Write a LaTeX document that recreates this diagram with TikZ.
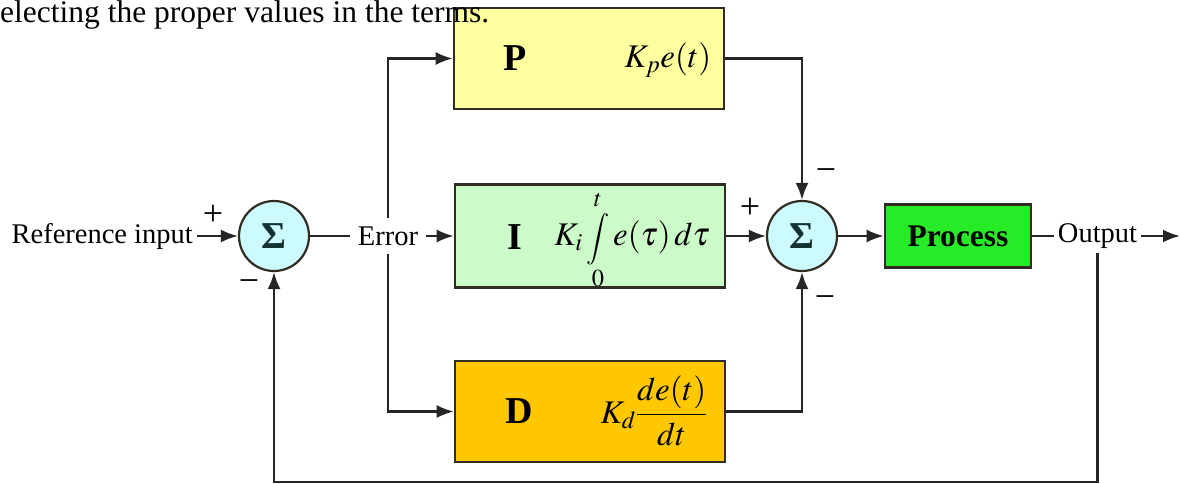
\documentclass[tikz,border=0pt]{standalone}
\usepackage{mathptmx}
\usepackage{fontspec}
\setmainfont{Liberation Serif}
\usetikzlibrary{arrows.meta, positioning}
\definecolor{pfill}{RGB}{255,255,160}
\definecolor{ifill}{RGB}{204,250,200}
\definecolor{dfill}{RGB}{255,200,0}
\definecolor{procfill}{RGB}{40,235,40}
\definecolor{sumfill}{RGB}{204,250,255}
\definecolor{boxline}{RGB}{50,45,35}
\definecolor{wirecol}{RGB}{38,38,38}
\definecolor{sigcol}{RGB}{20,50,50}

\begin{document}
\begin{tikzpicture}[x=1pt, y=-1pt,
    blk/.style={draw=boxline, line width=2.6pt, minimum width=270pt, minimum height=101pt, inner sep=0pt},
    summer/.style={circle, draw=boxline, line width=2.2pt, fill=sumfill, minimum size=70pt, inner sep=0pt, text=sigcol, font=\fontsize{38}{38}\selectfont\bfseries},
    lbl/.style={font=\fontsize{28.5}{30}\selectfont, inner sep=4pt},
    letter/.style={font=\fontsize{38}{38}\selectfont\bfseries, inner sep=0pt},
    mth/.style={font=\fontsize{33}{36}\selectfont, inner sep=0pt},
    sgn/.style={font=\fontsize{36}{36}\selectfont, inner sep=0pt},
    wire/.style={line width=2.2pt, draw=wirecol},
    arr/.style={wire, -{Latex[length=17pt, width=13pt]}}]
    \useasboundingbox (0,0) rectangle (1180,484);

    % P, I, D blocks
    \node[blk, fill=pfill] (P) at (589,58.5) {};
    \node[blk, fill=ifill, minimum height=103pt] (I) at (590,236) {};
    \node[blk, fill=dfill] (D) at (590,411.5) {};
    \node[letter] (Plet) at (515,58) {P};
    \node[letter] (Ilet) at (515,237) {I};
    \node[letter] (Dlet) at (519,411) {D};
    \node[mth] (Pterm) at (668,60) {$K_p e(t)$};
    \node[mth] (Iterm) at (632,240) {$\displaystyle K_i \mathop{\scalebox{0.78}{$\displaystyle\int$}}\limits_0^t e(\tau)\,d\tau$};
    \node[mth] (Dterm) at (654,411) {$\displaystyle K_d \frac{de(t)}{dt}$};

    % process block
    \node[blk, fill=procfill, minimum width=146pt, minimum height=63pt, font=\fontsize{31.5}{32}\selectfont\bfseries] (proc) at (958,236) {Process};

    % summing junctions
    \node[summer] (sum1) at (274,236) {Σ};
    \node[summer] (sum2) at (802,236) {Σ};

    % signal labels
    \node[lbl, anchor=east] (ref) at (197,236) {Reference input};
    \node[lbl, inner sep=8pt] (err) at (388,236) {Error};
    \node[lbl] (out) at (1097.5,236) {Output};
    \coordinate (outend) at (1180,236);
    \coordinate (fb) at (1097.5,482);

    % signs
    \node[sgn] (s1p) at (213,215) {+};
    \node[sgn] (s1m) at (249,286) {−};
    \node[sgn] (s2p) at (750,208) {+};
    \node[sgn] (s2mt) at (826,175) {−};
    \node[sgn] (s2mb) at (825,302) {−};

    % forward path
    \draw[arr] (ref.east) -- (sum1.west);
    \draw[wire] (sum1) -- (err);
    \draw[arr] (err) -- (I);
    \draw[arr] (err.north) |- (P.west);
    \draw[arr] (err.south) |- (D.west);
    \draw[arr] (P.east) -| (sum2.north);
    \draw[arr] (I.east) -- (sum2.west);
    \draw[arr] (D.east) -| (sum2.south);
    \draw[arr] (sum2) -- (proc);
    \draw[wire] (proc) -- (out);
    \draw[arr] (out) -- (outend);

    % feedback
    \draw[arr] (out.south) -- (fb) -| (sum1.south);

    % text above
    \node[anchor=base west, inner sep=0pt, font=\fontsize{31.5}{36}\selectfont] (cap) at (0,23) {electing the proper values in the terms.};
\end{tikzpicture}
\end{document}
